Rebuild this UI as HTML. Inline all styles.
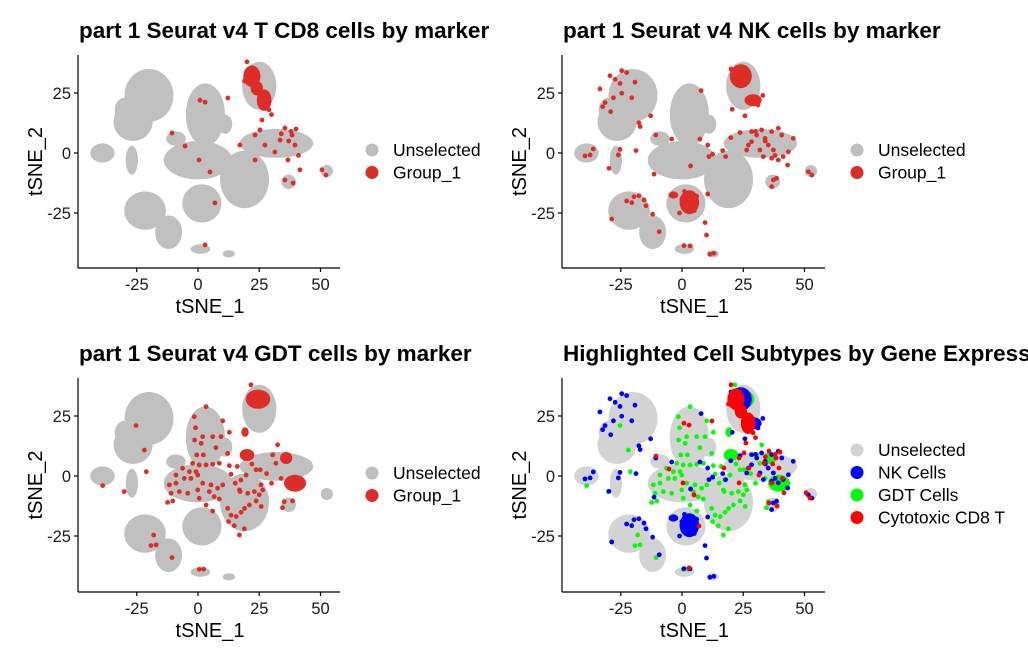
<!DOCTYPE html>
<html><head><meta charset="utf-8">
<style>
html,body{margin:0;padding:0;background:#fff;}
body{width:1028px;height:662px;overflow:hidden;font-family:"Liberation Sans",Arial,sans-serif;}
svg text{font-family:"Liberation Sans",Arial,sans-serif;}
</style></head>
<body>
<svg id="chart" width="1028" height="662" viewBox="0 0 1028 662" xmlns="http://www.w3.org/2000/svg"></svg>
<script>
// ---- data (tSNE coordinates) ----
// grey background clusters: [cx, cy, rx, ry]
const clusterBlobs = [
 [-20,24,10,11],[-26.5,13,8,8],[-39,0,5,4],[-27,-3,2.5,6],
 [-21.6,-24,8.5,8],[-12,-33,5.5,7],[3,16,8,13],[0,-3,14,8],
 [19,-11,10,12],[1.6,-21,8,8],[25,28,7,10],[32,4,15,6],
 [37,-12,3,3],[52.6,-7.5,2.5,2.5],[1,-40,4,2],[12.6,-42,2.5,1.5],
 [11,12,3,4],[-9,6,4,3],[-30,18,4,5]
];
// NK cells (panel 2, blue in panel 4)
const nkDense = [[24,32,4.5,5],[29,22,3.5,2.5],[3,-20.5,4,5],[-3.5,-17.5,2,1.5]];
const nkPoints = [
 [-29.4,32.2],[-24.6,34.3],[-22.6,33.5],[-27.3,30.7],[-25.3,29],[-19.2,29.5],[-33.5,26.7],[-24.6,24.9],
 [-28,23],[-20.5,23],[-31.4,21],[-32.4,19.3],[-29.1,17.2],[-12.8,15.5],[-17.6,12.6],[-17.1,11],[-10.7,7.5],
 [-36.2,1.7],[-39.6,-1.2],[-37.5,-0.8],[-25.3,1.5],[-26,-0.8],[-18.8,1],[-29.8,-6.4],[-11.4,-8.8],
 [-4.2,5.8],[7.3,5.8],[7.8,26],[10.5,3.3],[11,-1.5],[12.5,-0.5],[16.6,1],[17.8,-1.5],[3.5,-5.4],
 [10.5,-17.1],[9.4,-29],[10,-34.2],[0.8,-38.6],[3.3,-38.7],[11.4,-42.2],[13,-41.8],[-28.7,-27.5],
 [-22.6,-20],[-20.5,-20.7],[-17.6,-17.8],[-19.6,-18.2],[-14.7,-22],[-15.5,-19.6],[-12,-25.5],[-9.3,-32.8],
 [20.5,18.2],[25.7,15.5],[19.9,6.4],[23.7,8.5],
 [28.4,8.9],[30.5,7.5],[32.5,9.6],[33.9,6.1],[36.6,8.9],[39.3,10.3],[40.7,7.5],[28.4,4.7],[31.8,1.25],
 [35.2,3.3],[37.3,1.25],[33.2,-1.5],[36.6,-2.2],[39.3,-2.9],[41.3,-1.5],[43.4,0.5],[45.4,6.1],[43.1,-5],
 [27.1,3.3],[26.4,1.25],[37.3,-11.25],[36.6,-14],[38.6,-10.5],[51.6,-7.8],[53,-9.2],[30,9],[34,5],[38,-1],
 [1,-16],[5,-24],[-1,-25],[6,-18],[0,-19],[20,35],[27,34],[31,20],[33,24]
];
// Cytotoxic CD8 T (panel 1, red in panel 4)
const cd8Dense = [[22,32,3.5,4.5],[27,22,3,4.5],[24,27,2.5,3]];
const cd8Points = [
 [35.5,10.4],[38.4,7.5],[33.5,5.4],[39.6,3.3],[31.4,0.4],[36.7,-2.9],[41.6,-7],[35.5,-11.25],[38.8,-12.5],
 [50.6,-7],[52.2,-9.2],[0.8,22],[2.9,21.2],[-10.6,8.3],[-5.3,2.9],[0.4,-2.9],[4.9,-7.9],[17.1,3.3],
 [23.3,7.5],[26.1,13.75],[25.3,9.6],[6.9,-20.8],[2.9,-38.3],[23.3,-2.9],[12.2,22.9],[27.3,3.3],
 [38,9],[40,10],[37,5],[34,8],[41,-1],[20,38],[29,18],[30,16],[19,30]
];
// GDT cells (panel 3, green in panel 4)
const gdtDense = [[24.5,32,5,4],[39.6,-3,4.5,3.5],[20,8.75,3,2.5],[36,7.5,2.5,2.5],[19.2,18.3,1.5,2]];
const gdtPoints = [
 [-25.3,21],[-21.9,10.8],[-21.1,1.8],[-38.9,-4],[-30.1,-6.5],[3.3,28.9],[-1.5,24.7],[10.1,23],[-1,20.1],
 [1.9,16.4],[6,16.4],[9.4,16.4],[12.8,18.2],[-1.4,15],[1.3,13.6],[7.3,11.8],[2.2,8.8],[-0.5,8.8],[12.1,9.4],
 [-2.2,5.3],[0.5,4.6],[3.3,4.6],[6,4.9],[8.7,5.3],[12.8,4.3],[-6.3,3.2],[-3.5,1.8],[-0.8,1.8],[-9,0.4],
 [-5.6,-1],[-2.9,-1],[-0.1,0.4],[1.9,-3],[5.3,-3.7],[8,-5.1],[10.1,-3.7],[13.5,0.7],[15.2,-3],[17.5,-1.7],
 [19.6,0.4],[16.9,-5.8],[20.3,-7.2],[-11.7,-3.7],[-9,-3],[-11,-7.2],[-7.6,-6.5],[-12.4,-11],[-10.3,-10.4],
 [-4.2,-7.2],[-0.1,-5.8],[0.5,-9.3],[4.6,-6.5],[6.6,-8.6],[8.7,-9.6],[3.3,-12.1],[6,-14.6],[12.1,-13.5],
 [13.5,-16.3],[15.6,-16.9],[17.6,-15.1],[19,-13.5],[21,-12.1],[23.7,-10.4],[25.8,-12.7],[25,-7.8],[17.2,-6.5],
 [12.5,-19],[14.8,-20.7],[18.9,-22],[16.9,-24.6],[23,-6.5],[26.4,-5.8],[25.7,-3.7],[23.7,2.6],[25.4,2.6],
 [32.5,13],[30.5,8.8],[31.8,5.3],[33.9,-1],[35.2,-10.7],[34.5,-13.2],[38.6,-10.4],[-18.1,-24.6],[-19.2,-29],
 [-17.1,-28.7],[-10.6,-34],[0.5,-38.9],[2.3,-38.8],[21.6,38],[16,4],[22,5],[28,1],[30,-3]
];
const xTicks = [-25,0,25,50];
const yTicks = [25,0,-25];

// ---- layout ----
const panels = [
 {name:'cd8', title:'part 1 Seurat v4 T CD8 cells by marker', x0:198, y0:153, left:78, right:340, top:55, bottom:268, mode:'single', dense:cd8Dense, pts:cd8Points, legendX:372, legend:[['Unselected','#BEBEBE'],['Group_1','#DE2D26']]},
 {name:'nk', title:'part 1 Seurat v4 NK cells by marker', x0:682, y0:153, left:562, right:825, top:55, bottom:268, mode:'single', dense:nkDense, pts:nkPoints, legendX:857, legend:[['Unselected','#BEBEBE'],['Group_1','#DE2D26']]},
 {name:'gdt', title:'part 1 Seurat v4 GDT cells by marker', x0:198, y0:476, left:78, right:340, top:378, bottom:592, mode:'single', dense:gdtDense, pts:gdtPoints, legendX:372, legend:[['Unselected','#BEBEBE'],['Group_1','#DE2D26']]},
 {name:'subtypes', title:'Highlighted Cell Subtypes by Gene Expression', x0:682, y0:476, left:562, right:825, top:378, bottom:592, mode:'multi', legendX:857, legend:[['Unselected','#D3D3D3'],['NK Cells','#0000FF'],['GDT Cells','#00FF00'],['Cytotoxic CD8 T','#FF0000']]}
];
const SX = 2.45, SY = 2.4;
const NS='http://www.w3.org/2000/svg';
const svg=document.getElementById('chart');
function mk(tag,attrs,parent){const e=document.createElementNS(NS,tag);for(const k in attrs)e.setAttribute(k,attrs[k]);(parent||svg).appendChild(e);return e;}

panels.forEach(p=>{
 const g=mk('g',{});
 
 
 const xs=v=>p.x0+v*SX, ys=v=>p.y0-v*SY;
 const grey = p.mode==='multi' ? '#D3D3D3' : '#C0C0C0';
 const bg=mk('g',{fill:grey},g);
 
 
 clusterBlobs.forEach(b=>{ mk('ellipse',{cx:xs(b[0]),cy:ys(b[1]),rx:b[2]*SX,ry:b[3]*SY},bg); });
 function drawSet(dense,pts,color,label){
  const sg=mk('g',{fill:color},g);
  
  
  dense.forEach(b=>{ mk('ellipse',{cx:xs(b[0]),cy:ys(b[1]),rx:b[2]*SX,ry:b[3]*SY},sg); });
  pts.forEach(pt=>{ mk('circle',{cx:xs(pt[0]),cy:ys(pt[1]),r:2.4},sg); });
 }
 if(p.mode==='single'){ drawSet(p.dense,p.pts,'#DE2D26','group-1-cells'); }
 else { drawSet(gdtDense,gdtPoints,'#00FF00','gdt-cells'); drawSet(nkDense,nkPoints,'#0000FF','nk-cells'); drawSet(cd8Dense,cd8Points,'#FF0000','cd8-cells'); }
 // axes
 const ax=mk('g',{stroke:'#000','stroke-width':1.2,fill:'none'},g);
 
 
 mk('line',{x1:p.left,y1:p.top,x2:p.left,y2:p.bottom},ax);
 mk('line',{x1:p.left,y1:p.bottom,x2:p.right,y2:p.bottom},ax);
 xTicks.forEach(t=>{
  mk('line',{x1:xs(t),y1:p.bottom,x2:xs(t),y2:p.bottom+4},ax);
  const tx=mk('text',{x:xs(t),y:p.bottom+22,'text-anchor':'middle','font-size':16.5,fill:'#1a1a1a'},g);
  tx.textContent=t;
  
  
 });
 yTicks.forEach(t=>{
  mk('line',{x1:p.left-4,y1:ys(t),x2:p.left,y2:ys(t)},ax);
  const tx=mk('text',{x:p.left-7,y:ys(t)+6,'text-anchor':'end','font-size':16.5,fill:'#1a1a1a'},g);
  tx.textContent=t;
  
  
 });
 const xt=mk('text',{x:(p.left+p.right)/2+1,y:p.bottom+45,'text-anchor':'middle','font-size':20,fill:'#000'},g);
 xt.textContent='tSNE_1';
 
 
 const yx=p.left-36, yy=(p.top+p.bottom)/2;
 const yt=mk('text',{x:yx,y:yy,'text-anchor':'middle','font-size':20,fill:'#000',transform:`rotate(-90 ${yx} ${yy})`},g);
 yt.textContent='tSNE_2';
 
 
 const ti=mk('text',{x:p.left+1,y:p.top-17,'font-size':22.5,'font-weight':'bold',fill:'#000'},g);
 ti.textContent=p.title;
 
 
 // legend
 const ly0 = p.legend.length===2 ? p.y0-3 : p.y0-26;
 p.legend.forEach((l,i)=>{
  const lg=mk('g',{},g);
  
  
  const y=ly0+i*22.5;
  mk('circle',{cx:p.legendX,cy:y,r:6.5,fill:l[1]},lg);
  const t=mk('text',{x:p.legendX+21,y:y+6,'font-size':17.5,fill:'#000'},lg);
  t.textContent=l[0];
 });
});
</script>
</body></html>
